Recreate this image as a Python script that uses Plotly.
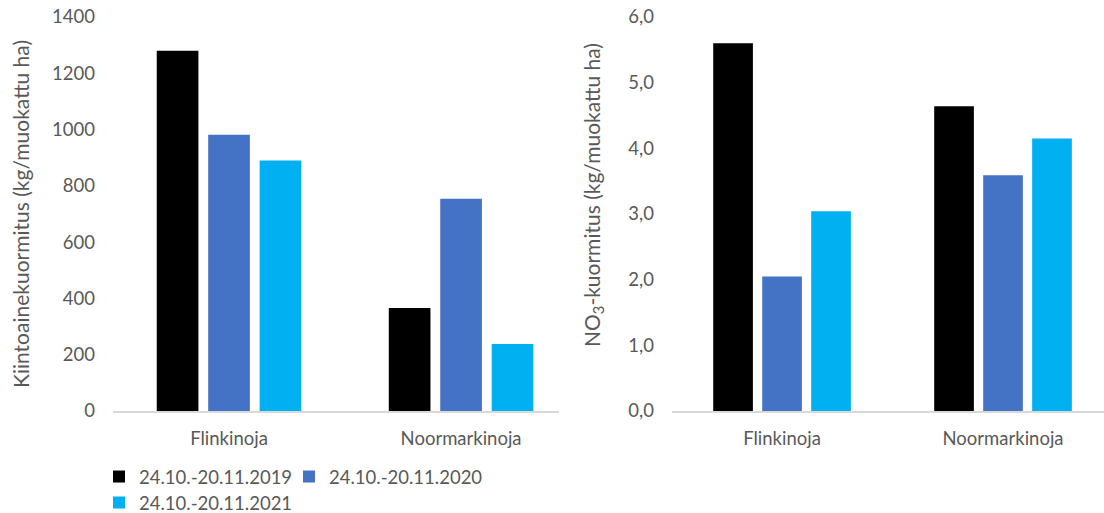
import plotly.graph_objects as go

# Sites and measurement periods
sites = ["Flinkinoja", "Noormarkinoja"]
periods = ["24.10.-20.11.2019", "24.10.-20.11.2020", "24.10.-20.11.2021"]
colors = ["#000000", "#4472C4", "#00B0F0"]

# Suspended solids load (kg/ha) per period
solids_2019 = [1280, 366]
solids_2020 = [982, 754]
solids_2021 = [890, 238]

# Nitrate load (kg/ha) per period
nitrate_2019 = [5.60, 4.64]
nitrate_2020 = [2.05, 3.59]
nitrate_2021 = [3.04, 4.15]

solids = [solids_2019, solids_2020, solids_2021]
nitrate = [nitrate_2019, nitrate_2020, nitrate_2021]

FONT = "Lato"
GRAY = "#595959"
W, H = 1104, 513
TICK_SIZE = 18.5
TITLE_SIZE = 21

fig = go.Figure()

# each period gets its own legend box so the entries sit on a fixed grid
legend_names = ["legend", "legend2", "legend3"]
for i, name in enumerate(periods):
    fig.add_trace(go.Bar(
        x=sites, y=solids[i], name=name, marker_color=colors[i],
        marker_line_width=0, xaxis="x", yaxis="y",
        legend=legend_names[i], showlegend=True, hoverinfo="skip",
    ))
for i, name in enumerate(periods):
    fig.add_trace(go.Bar(
        x=sites, y=nitrate[i], name=name, marker_color=colors[i],
        marker_line_width=0, xaxis="x2", yaxis="y2",
        showlegend=False, hoverinfo="skip",
    ))

y_dom = [(H - 411) / H, (H - 17) / H]

axis_common = dict(
    showgrid=False, zeroline=False, automargin=False,
    tickfont=dict(family=FONT, size=TICK_SIZE, color=GRAY),
)

legend_common = dict(
    orientation="h", xanchor="left", yanchor="middle",
    font=dict(family=FONT, size=TICK_SIZE, color=GRAY),
    bgcolor="rgba(0,0,0,0)", itemclick=False, itemdoubleclick=False,
)

fig.update_layout(
    width=W, height=H,
    margin=dict(l=0, r=0, t=0, b=0, autoexpand=False),
    paper_bgcolor="white", plot_bgcolor="white",
    separators=", ",
    barmode="group", bargap=0.335, bargroupgap=0.19,
    font=dict(family=FONT, size=TICK_SIZE, color=GRAY),
    xaxis=dict(
        domain=[113 / W, 559 / W], range=[-0.5, 1.422],
        showline=True, linecolor="#D9D9D9", linewidth=1.5,
        ticks="", ticklabelstandoff=10, anchor="y", **axis_common,
    ),
    yaxis=dict(
        domain=y_dom, range=[0, 1400], dtick=200,
        showline=False, ticks="", ticklabelstandoff=17, anchor="x",
        title=dict(text="Kiintoainekuormitus (kg/muokattu ha)",
                   font=dict(family=FONT, size=TITLE_SIZE, color=GRAY), standoff=16),
        **axis_common,
    ),
    xaxis2=dict(
        domain=[672 / W, 1.0], range=[-0.498, 1.457],
        showline=True, linecolor="#D9D9D9", linewidth=1.5,
        ticks="", ticklabelstandoff=10, anchor="y2", **axis_common,
    ),
    yaxis2=dict(
        domain=y_dom, range=[0, 6], dtick=1, tickformat=".1f",
        showline=False, ticks="", ticklabelstandoff=17, anchor="x2",
        **axis_common,
    ),
    annotations=[dict(
        text="NO<sub>3</sub>-kuormitus (kg/muokattu ha)",
        xref="paper", yref="paper", x=593 / W, y=(H - 195) / H,
        xanchor="center", yanchor="middle", textangle=-90, showarrow=False,
        font=dict(family=FONT, size=TITLE_SIZE, color=GRAY),
    )],
    legend=dict(x=99 / W, y=(H - 477) / H, **legend_common),
    legend2=dict(x=289 / W, y=(H - 477) / H, **legend_common),
    legend3=dict(x=99 / W, y=(H - 503) / H, **legend_common),
)

fig.write_html("out.html")
